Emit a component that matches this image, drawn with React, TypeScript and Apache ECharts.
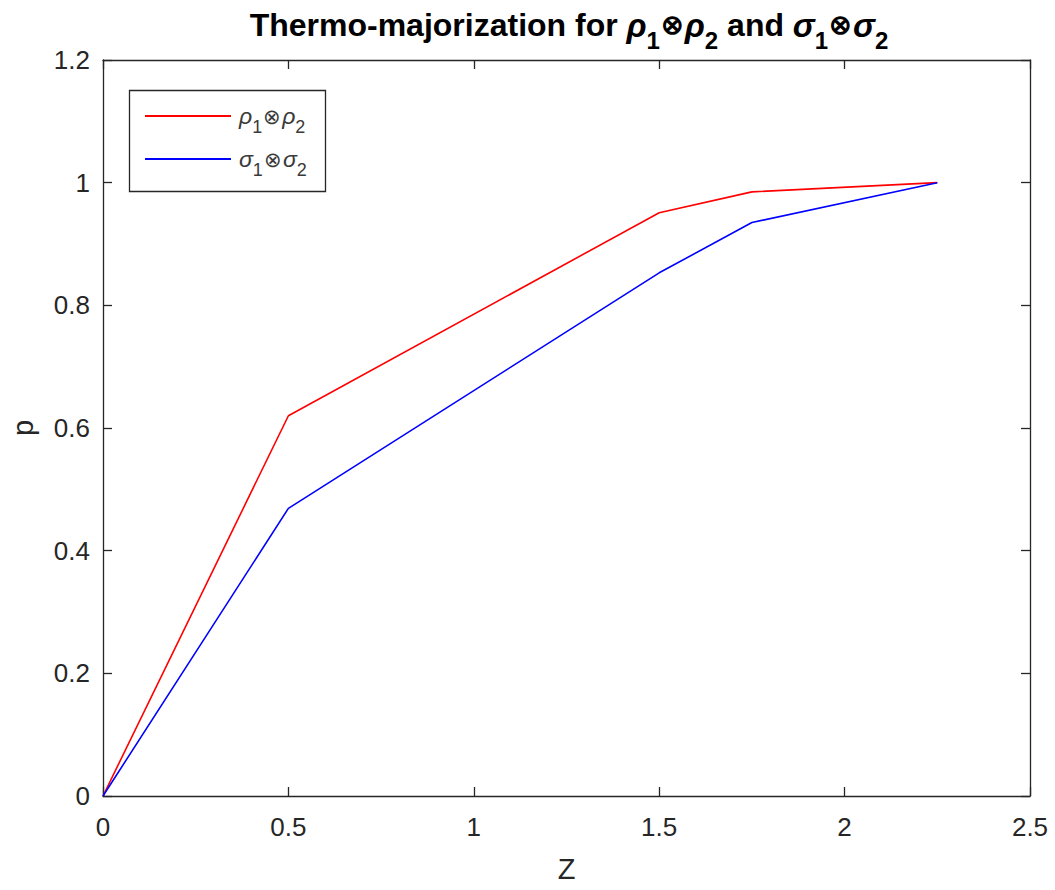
import React, { useEffect, useRef } from "react";
import * as echarts from "echarts";

const zValues = [0, 0.5, 1.5, 1.75, 2.25];
const rhoValues = [0, 0.62, 0.951, 0.985, 1.0];
const sigmaValues = [0, 0.469, 0.853, 0.935, 1.0];
const seriesNames = ["rho", "sigma"];
const xTicks = { min: 0, max: 2.5, interval: 0.5 };
const yTicks = { min: 0, max: 1.2, interval: 0.2 };

const FONT = "'Liberation Sans', Arial, Helvetica, sans-serif";
const TXT = "#262626";

export default function App() {
  const ref = useRef<HTMLDivElement>(null);
  useEffect(() => {
    if (!ref.current) return;
    const chart = echarts.init(ref.current, null, { renderer: "svg" });
    const rhoData = zValues.map((z, i) => [z, rhoValues[i]]);
    const sigmaData = zValues.map((z, i) => [z, sigmaValues[i]]);
    const legendRich = {
      g: { fontFamily: FONT, fontSize: 23, fontStyle: "italic", color: "#3a3a3a", lineHeight: 20 },
      s: { fontFamily: FONT, fontSize: 18, color: "#3a3a3a", padding: [22, 0, 0, 0], lineHeight: 20 },
      o: { fontFamily: FONT, fontSize: 21, color: "#3a3a3a", lineHeight: 20, padding: [0, 1, 0, 1] },
    };
    const titleRich = {
      b: { fontFamily: FONT, fontSize: 32, fontWeight: "bold", color: "#000", lineHeight: 32 },
      g: { fontFamily: FONT, fontSize: 33, fontStyle: "italic", color: "#000", lineHeight: 32 },
      s: { fontFamily: FONT, fontSize: 24, fontWeight: "bold", color: "#000", padding: [30, 0, 0, 0], lineHeight: 32 },
      o: { fontFamily: FONT, fontSize: 27, color: "#000", lineHeight: 32, padding: [0, 1, 0, 1] },
    };
    const axisCommon = {
      axisLine: { show: true, onZero: false, lineStyle: { color: TXT, width: 1.3 } },
      axisTick: { show: true, inside: true, length: 9, lineStyle: { color: TXT, width: 1.3 } },
      splitLine: { show: false },
    };
    chart.setOption({
      animation: false,
      backgroundColor: "#fff",
      title: {
        text:
          "{b|Thermo-majorization for }{g|ρ}{s|1}{o|⊗}{g|ρ}{s|2}{b| and }{g|σ}{s|1}{o|⊗}{g|σ}{s|2}",
        left: 564,
        top: 4,
        textAlign: "center",
        textStyle: { rich: titleRich, fontFamily: FONT },
      },
      grid: { left: 100, top: 60, right: 25, bottom: 94, containLabel: false },
      legend: {
        orient: "vertical",
        left: 127,
        top: 88,
        padding: [8, 14, 4, 17],
        itemWidth: 86,
        itemHeight: 20,
        itemGap: 3,
        data: seriesNames,
        itemStyle: { color: "rgba(0,0,0,0)", borderWidth: 0, opacity: 0 },
        formatter: (name: string) =>
          name === "rho"
            ? "{g|ρ}{s|1}{o|⊗}{g|ρ}{s|2}"
            : "{g|σ}{s|1}{o|⊗}{g|σ}{s|2}",
        textStyle: { rich: legendRich, padding: [0, 0, 0, 3] },
      },
      graphic: [
        {
          type: "rect",
          left: 127,
          top: 88,
          shape: { width: 196, height: 101 },
          style: { fill: "none", stroke: TXT, lineWidth: 1.3 },
          z: 10,
        },
      ],
      xAxis: [
        {
          type: "value",
          ...xTicks,
          position: "bottom",
          name: "Z",
          nameLocation: "middle",
          nameGap: 58,
          nameTextStyle: { fontFamily: FONT, fontSize: 29, color: TXT },
          axisLabel: { fontFamily: FONT, fontSize: 26, color: TXT, margin: 18 },
          ...axisCommon,
        },
        {
          type: "value",
          ...xTicks,
          position: "top",
          axisLabel: { show: false },
          ...axisCommon,
        },
      ],
      yAxis: [
        {
          type: "value",
          ...yTicks,
          position: "left",
          name: "p",
          nameLocation: "middle",
          nameGap: 66,
          nameTextStyle: { fontFamily: FONT, fontSize: 29, color: TXT },
          axisLabel: { fontFamily: FONT, fontSize: 26, color: TXT, margin: 13 },
          ...axisCommon,
        },
        {
          type: "value",
          ...yTicks,
          position: "right",
          axisLabel: { show: false },
          ...axisCommon,
        },
      ],
      series: [
        {
          name: seriesNames[0],
          type: "line",
          data: rhoData,
          symbol: "none",
          color: "#ff0000",
          lineStyle: { color: "#ff0000", width: 1.6 },
        },
        {
          name: seriesNames[1],
          type: "line",
          data: sigmaData,
          symbol: "none",
          color: "#0000ff",
          lineStyle: { color: "#0000ff", width: 1.6 },
        },
      ],
    });
    return () => chart.dispose();
  }, []);
  return (
    <div
      ref={ref}
      style={{ position: "fixed", left: 0, top: 0, width: 1055, height: 890 }}
    />
  );
}
